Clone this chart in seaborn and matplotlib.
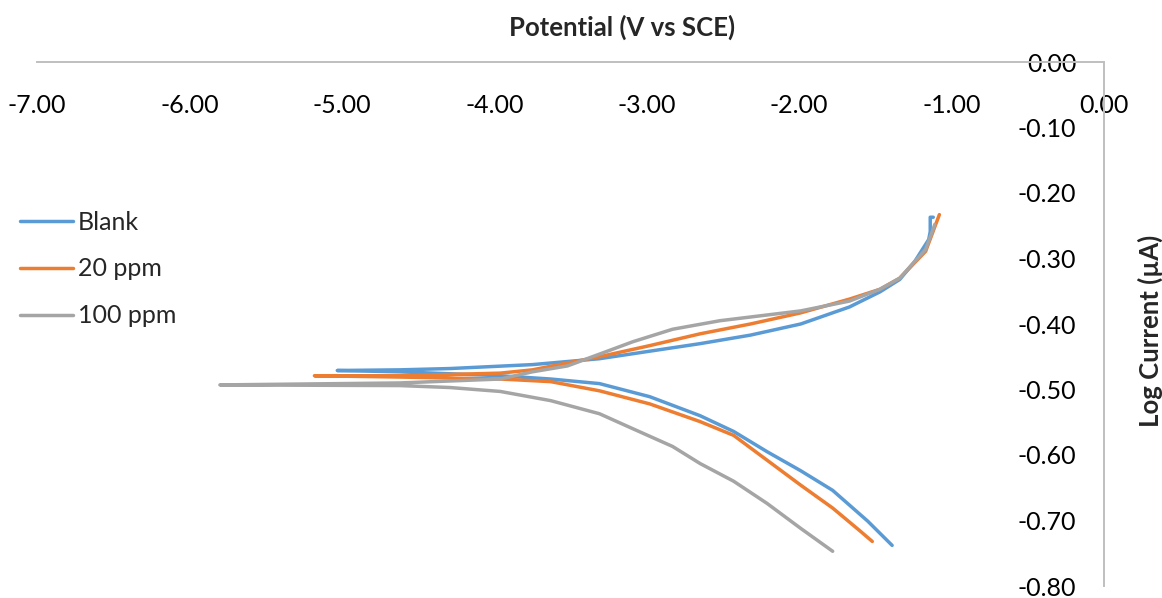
import pandas as pd
import seaborn as sns
import matplotlib.pyplot as plt

# Values (cathodic branch, then anodic branch)
series_names = ["Blank", "20 ppm", "100 ppm"]
series_colors = ["#5B9BD5", "#ED7D31", "#A5A5A5"]

blank_potential = [-1.39, -1.55, -1.78, -1.99, -2.21, -2.43, -2.65, -2.98, -3.31, -3.63, -3.96, -4.62, -5.03,
                   -4.62, -4.29, -3.75, -3.31, -2.65, -2.32, -1.99, -1.67, -1.47, -1.34, -1.24,
                   -1.15, -1.14, -1.14, -1.12]
blank_current = [-0.738, -0.701, -0.654, -0.624, -0.595, -0.564, -0.540, -0.511, -0.491, -0.484, -0.479, -0.473, -0.471,
                 -0.470, -0.468, -0.462, -0.453, -0.430, -0.417, -0.400, -0.374, -0.351, -0.332, -0.304,
                 -0.271, -0.259, -0.237, -0.237]

ppm20_potential = [-1.52, -1.60, -1.78, -1.99, -2.21, -2.43, -2.65, -2.98, -3.31, -3.63, -3.96, -4.62, -5.18,
                   -4.62, -3.96, -3.75, -3.31, -2.98, -2.65, -2.32, -1.99, -1.67, -1.47, -1.34,
                   -1.17, -1.08]
ppm20_current = [-0.732, -0.716, -0.681, -0.646, -0.608, -0.570, -0.549, -0.522, -0.502, -0.488, -0.484, -0.481, -0.479,
                 -0.479, -0.475, -0.470, -0.450, -0.433, -0.415, -0.400, -0.383, -0.362, -0.347, -0.330,
                 -0.289, -0.233]

ppm100_potential = [-1.78, -1.99, -2.21, -2.43, -2.65, -2.83, -3.09, -3.31, -3.63, -3.96, -4.29, -4.62, -5.80,
                    -4.62, -3.96, -3.75, -3.52, -3.31, -3.09, -2.83, -2.52, -1.99, -1.67, -1.47,
                    -1.34, -1.17, -1.11]
ppm100_current = [-0.747, -0.712, -0.674, -0.640, -0.613, -0.587, -0.560, -0.537, -0.517, -0.503, -0.497, -0.494, -0.493,
                  -0.490, -0.484, -0.473, -0.464, -0.446, -0.427, -0.408, -0.395, -0.380, -0.365, -0.347,
                  -0.330, -0.286, -0.248]

x_ticks = [-7, -6, -5, -4, -3, -2, -1, 0]
y_ticks = [-0.8, -0.7, -0.6, -0.5, -0.4, -0.3, -0.2, -0.1, 0.0]

# Long-form table for seaborn
frames = []
for name, xs, ys in zip(series_names,
                        [blank_potential, ppm20_potential, ppm100_potential],
                        [blank_current, ppm20_current, ppm100_current]):
    frames.append(pd.DataFrame({"Potential": xs, "Log Current": ys, "Series": name}))
df = pd.concat(frames, ignore_index=True)

sns.set_theme(style="white")
plt.rcParams["font.family"] = ["Lato", "DejaVu Sans"]

fig = plt.figure(figsize=(11.62, 5.98), dpi=100)
ax = fig.add_axes([37 / 1162, 1 - 586 / 598, (1104 - 37) / 1162, (586 - 62) / 598])

sns.lineplot(
    data=df,
    x="Potential",
    y="Log Current",
    hue="Series",
    hue_order=series_names,
    palette=series_colors,
    sort=False,
    estimator=None,
    linewidth=2.5,
    solid_capstyle="round",
    solid_joinstyle="round",
    ax=ax,
)

ax.set_xlim(-7, 0)
ax.set_ylim(-0.8, 0)
ax.set_xticks(x_ticks)
ax.set_yticks(y_ticks)
ax.set_xticklabels([f"{v:.2f}" for v in x_ticks])
ax.set_yticklabels([f"{v:.2f}" for v in y_ticks])

# Axes cross at zero: horizontal axis on top, vertical axis on the right
ax.spines["bottom"].set_position(("data", 0))
ax.spines["left"].set_position(("data", 0))
ax.spines["top"].set_visible(False)
ax.spines["right"].set_visible(False)
for side in ["bottom", "left"]:
    ax.spines[side].set_color("#BFBFBF")
    ax.spines[side].set_linewidth(1.4)

ax.tick_params(axis="x", length=0, pad=23, labelsize=18, colors="#000000")
ax.tick_params(axis="y", length=0, pad=20, labelsize=18, colors="#000000")
ax.set_xlabel("")
ax.set_ylabel("")
ax.grid(False)

fig.text(622 / 1162, 1 - 27 / 598, "Potential (V vs SCE)", ha="center", va="center",
         fontsize=18.5, fontweight="bold")
fig.text(1150 / 1162, 1 - 331 / 598, "Log Current (µA)", ha="center", va="center",
         rotation=90, fontsize=18.5, fontweight="bold")

ax.legend(
    loc="center left",
    bbox_to_anchor=(20 / 1162, 1 - 269 / 598),
    bbox_transform=fig.transFigure,
    frameon=False,
    fontsize=18,
    handlelength=2.1,
    handletextpad=0.2,
    labelspacing=0.95,
    borderpad=0,
    borderaxespad=0,
)

fig.savefig("out.png", dpi=100)
